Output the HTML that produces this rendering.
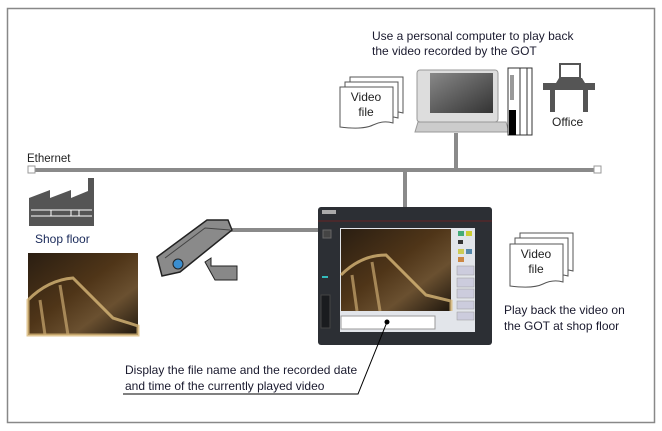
<!DOCTYPE html>
<html><head><meta charset="utf-8"><style>
body{margin:0;background:#fff;}
svg{display:block;font-family:"Liberation Sans",sans-serif;}
</style></head><body>
<svg width="662" height="431" viewBox="0 0 662 431">
<defs>
<linearGradient id="scr" x1="0" y1="0" x2="1" y2="1"><stop offset="0" stop-color="#888"/><stop offset="1" stop-color="#333"/></linearGradient>
<linearGradient id="vid" x1="0" y1="0" x2="1" y2="1"><stop offset="0" stop-color="#2a1e12"/><stop offset="0.45" stop-color="#4f3518"/><stop offset="0.7" stop-color="#6a5030"/><stop offset="1" stop-color="#1f170e"/></linearGradient>
</defs>
<rect x="7.5" y="8.5" width="647" height="414" fill="#fff" stroke="#888" stroke-width="1.5"/>
<!-- ethernet -->
<rect x="32" y="168" width="566" height="4" fill="#8a8a8a"/>
<rect x="28" y="166" width="7" height="7" fill="#fff" stroke="#999"/>
<rect x="594" y="166" width="7" height="7" fill="#fff" stroke="#999"/>
<rect x="454" y="133" width="4" height="36" fill="#8a8a8a"/>
<rect x="403" y="171" width="4" height="37" fill="#8a8a8a"/>
<rect x="230" y="228" width="90" height="4" fill="#8a8a8a"/>
<text x="27" y="162" font-size="11.5" fill="#222">Ethernet</text>
<!-- top text -->
<text x="372" y="40" font-size="12" fill="#1a1a2e">Use a personal computer to play back</text>
<text x="372" y="55" font-size="12" fill="#1a1a2e">the video recorded by the GOT</text>
<!-- video file top -->
<g stroke="#555" stroke-width="1" fill="#fff">
<path d="M350 77h53v36q-10 -3 -20 2t-33 2z"/>
<path d="M345 82h53v36q-10 -3 -20 2t-33 2z"/>
<path d="M340 87h53v36q-10 -3 -20 2t-33 2z"/>
</g>
<text x="366" y="101" font-size="12" text-anchor="middle" fill="#222">Video</text>
<text x="366" y="116" font-size="12" text-anchor="middle" fill="#222">file</text>
<!-- PC -->
<rect x="417" y="70" width="81" height="52" rx="3" fill="#ddd" stroke="#999"/>
<rect x="430" y="73" width="63" height="40" fill="url(#scr)"/>
<path d="M418 122h88l3 10h-94z" fill="#ccc" stroke="#999"/>
<rect x="508" y="68" width="24" height="67" fill="#fff" stroke="#333"/>
<rect x="509" y="110" width="7" height="25" fill="#000"/>
<rect x="510" y="75" width="4" height="25" fill="#999"/>
<line x1="520" y1="68" x2="520" y2="135" stroke="#333"/>
<line x1="527" y1="68" x2="527" y2="135" stroke="#333"/>
<!-- desk -->
<rect x="543" y="83" width="52" height="7" fill="#555"/>
<rect x="550" y="90" width="5" height="22" fill="#555"/>
<rect x="583" y="90" width="5" height="22" fill="#555"/>
<rect x="560" y="64" width="20" height="14" fill="none" stroke="#555" stroke-width="2"/>
<path d="M556 83l3 -5h23l3 5z" fill="#555"/>
<text x="552" y="126" font-size="12" fill="#222">Office</text>
<!-- factory -->
<path d="M29 226v-28l21 -8v8l21 -8v8l17 -7v-13h6v48z" fill="#555"/>
<g stroke="#fff" stroke-width="1"><line x1="31" y1="210" x2="92" y2="210"/><line x1="31" y1="216" x2="92" y2="216"/><line x1="51" y1="210" x2="51" y2="216"/><line x1="71" y1="210" x2="71" y2="216"/><line x1="79" y1="210" x2="79" y2="216"/></g>
<text x="35" y="243" font-size="12" fill="#1a2a5a">Shop floor</text>
<rect x="28" y="253" width="110" height="82" fill="url(#vid)"/>
<path d="M28 300q20 -20 45 -22l40 40 25 8v9h-110z" fill="none" stroke="#d8b878" stroke-width="3" opacity="0.8"/>
<path d="M40 300l5 35M60 285l8 50" stroke="#c9a870" stroke-width="3" opacity="0.7"/>
<!-- camera -->
<path d="M157 257l50 -37h21l4 10 -52 42 -18 4z" fill="#8a8a8a" stroke="#222" stroke-width="1.5"/>
<path d="M165 258l40 -30 25 2" fill="none" stroke="#444"/>
<circle cx="178" cy="264" r="5" fill="#3a8ed0" stroke="#222"/>
<path d="M205 262l6 -4v8h26v14h-22z" fill="#888" stroke="#222"/>
<!-- GOT -->
<rect x="318" y="207" width="174" height="138" rx="3" fill="#2c2f34"/>
<line x1="318" y1="221" x2="492" y2="221" stroke="#7a2020" stroke-width="0.8"/>
<rect x="322" y="210" width="14" height="4" fill="#aaa"/>
<rect x="323" y="230" width="8" height="8" fill="#444" stroke="#666"/>
<rect x="322" y="276" width="6" height="2" fill="#3bb"/>
<rect x="321" y="295" width="9" height="33" fill="#1a1c1f" stroke="#444"/>
<rect x="340" y="228" width="135" height="104" fill="#e2e5ea"/>
<rect x="341" y="229" width="110" height="82" fill="url(#vid)"/>
<path d="M341 275q20 -20 45 -20l40 40 25 6v10" fill="none" stroke="#d8b878" stroke-width="3" opacity="0.8"/>
<path d="M352 275l5 36M372 262l8 49" stroke="#c9a870" stroke-width="3" opacity="0.7"/>
<rect x="341" y="316" width="94" height="13" fill="#fff" stroke="#999"/>
<circle cx="387" cy="322" r="2.5" fill="#000"/>
<g fill="#4a7"><rect x="458" y="231" width="6" height="5"/><rect x="466" y="231" width="6" height="5" fill="#cc3"/><rect x="458" y="240" width="5" height="4" fill="#333"/><rect x="458" y="249" width="6" height="5" fill="#cc5"/><rect x="466" y="249" width="6" height="5" fill="#58a"/><rect x="458" y="257" width="6" height="5" fill="#c84"/></g>
<g fill="#ccd" stroke="#999" stroke-width="0.5"><rect x="457" y="266" width="17" height="9"/><rect x="457" y="278" width="17" height="9"/><rect x="457" y="289" width="17" height="9"/><rect x="457" y="301" width="17" height="8"/><rect x="457" y="312" width="17" height="8"/></g>
<!-- callout -->
<polyline points="123,394 358,394 387,322" fill="none" stroke="#000" stroke-width="1"/>
<text x="125" y="374" font-size="12" fill="#1a1a2e">Display the file name and the recorded date</text>
<text x="125" y="390" font-size="12" fill="#1a1a2e">and time of the currently played video</text>
<!-- right video file -->
<g stroke="#555" stroke-width="1" fill="#fff">
<path d="M520 233h53v38q-10 -3 -20 2t-33 2z"/>
<path d="M515 238h53v38q-10 -3 -20 2t-33 2z"/>
<path d="M510 244h53v38q-10 -3 -20 2t-33 2z"/>
</g>
<text x="536" y="258" font-size="12" text-anchor="middle" fill="#222">Video</text>
<text x="536" y="273" font-size="12" text-anchor="middle" fill="#222">file</text>
<text x="504" y="314" font-size="12" fill="#1a1a2e">Play back the video on</text>
<text x="504" y="330" font-size="12" fill="#1a1a2e">the GOT at shop floor</text>
</svg>
</body></html>
